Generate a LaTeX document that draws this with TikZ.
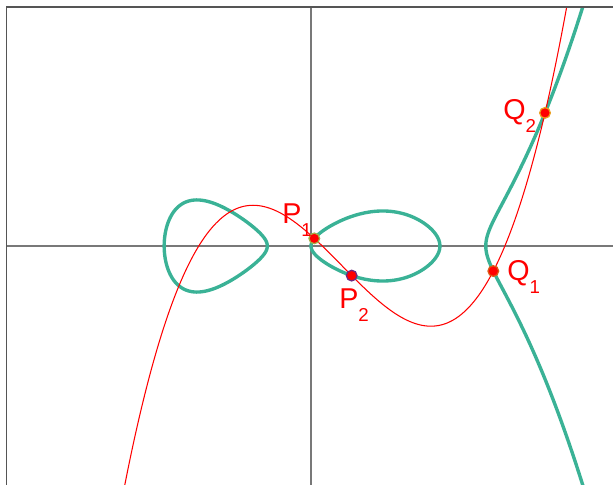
\documentclass[tikz,border=0pt]{standalone}
\usepackage{fontspec}
\setmainfont{Liberation Sans}
\usetikzlibrary{positioning}
\definecolor{curvegreen}{RGB}{58,178,150}
\definecolor{axisgray}{RGB}{120,120,120}
\definecolor{framegray}{RGB}{85,85,85}
\definecolor{ringolive}{RGB}{165,175,70}
\definecolor{ringpurple}{RGB}{110,40,130}
\definecolor{ringorange}{RGB}{220,90,20}
\definecolor{ringamber}{RGB}{235,160,30}
\newcommand{\ptsub}[1]{\raisebox{-9.5pt}{\fontsize{13.3}{14}\selectfont #1}}

\begin{document}
\begin{tikzpicture}[
    x=1.0925cm, y=1.0925cm,
    declare function={
        cub(\t)=0.082136*(\t)*(\t)*(\t)-0.174737*(\t)*(\t)-0.89607*(\t)+0.242413;
        lx(\t)=-2.18-1.18*cos(\t);
        ly(\t)=1.18*sin(\t)*sqrt(abs(-0.0096*lx(\t)*(lx(\t)-2.95)*(lx(\t)-4)));
        mx(\t)=1.475-1.475*cos(\t);
        my(\t)=1.475*sin(\t)*sqrt(abs(-0.0096*(mx(\t)+1)*(mx(\t)+3.36)*(mx(\t)-4)));
        rx(\t)=4+(\t)*(\t);
        ry(\t)=(\t)*sqrt(abs(0.0096*rx(\t)*(rx(\t)+1)*(rx(\t)+3.36)*(rx(\t)-2.95)));
    },
    axis/.style={draw=axisgray, line width=0.9pt},
    frameline/.style={draw=framegray, line width=1.3pt},
    hypcurve/.style={draw=curvegreen, line width=2.4pt},
    redcubic/.style={draw=red, line width=0.75pt},
    dot/.style={circle, fill=red, line width=0.9pt, inner sep=0pt, minimum size=7.6pt},
    ptlabel/.style={red, inner sep=0pt, font=\fontsize{20.4}{21}\selectfont}
]
\useasboundingbox (-7.1167,-5.4691) rectangle (6.9108,5.6293);

% ---- frame and axes ----
\coordinate (tl) at (-6.968,5.469);
\coordinate (bl) at (-6.968,-5.4691);
\coordinate (tr) at (6.9108,5.469);
\coordinate (xl) at (-6.968,0);
\coordinate (xr) at (6.9108,0);
\coordinate (yt) at (0,5.469);
\coordinate (yb) at (0,-5.4691);

\draw[axis] (xl) -- (xr);
\draw[axis] (yt) -- (yb);

% ---- curves ----
\begin{scope}
\clip (bl) rectangle (tr);
\draw[hypcurve] plot[domain=0:360, samples=181, smooth, variable=\s]
    ({lx(\s)}, {ly(\s)});
\draw[hypcurve] plot[domain=0:360, samples=181, smooth, variable=\s]
    ({mx(\s)}, {my(\s)});
\draw[hypcurve] plot[domain=-1.6:1.6, samples=121, smooth, variable=\s]
    ({rx(\s)}, {ry(\s)});
\draw[redcubic] plot[domain=-4.4:6.0, samples=160, smooth, variable=\s]
    (\s, {cub(\s)});
\end{scope}

\draw[frameline] (bl) -- (tl) -- (tr);

% ---- points ----
\node[dot, draw=ringolive] (P1) at (0.0755,0.1738) {};
\node[dot, draw=ringpurple] (P2) at (0.931,-0.677) {};
\node[dot, draw=ringorange] (Q1) at (4.172,-0.573) {};
\node[dot, draw=ringamber] (Q2) at (5.355,3.046) {};

\node[ptlabel, anchor=north west] (labP1) at (-0.664,0.984) {P\ptsub{1}};
\node[ptlabel, anchor=north west] (labP2) at (0.641,-0.961) {P\ptsub{2}};
\node[ptlabel, anchor=north west] (labQ1) at (4.485,-0.320) {Q\ptsub{1}};
\node[ptlabel, anchor=north west] (labQ2) at (4.394,3.364) {Q\ptsub{2}};
\end{tikzpicture}
\end{document}
